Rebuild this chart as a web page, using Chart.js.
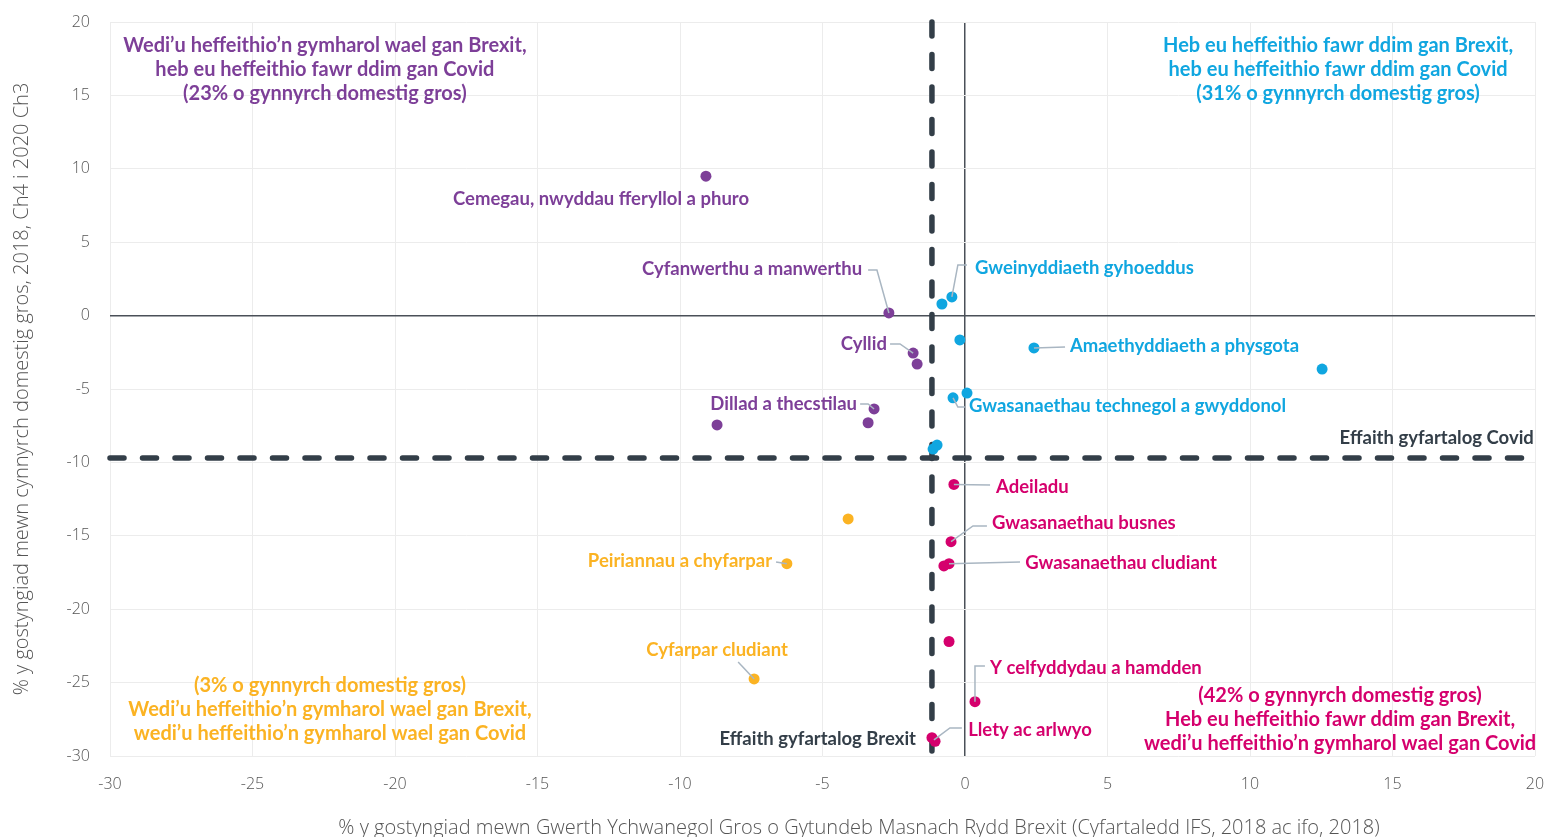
<!DOCTYPE html>
<html>
<head>
<meta charset="utf-8">
<script src="https://cdn.jsdelivr.net/npm/chart.js@4"></script>
<style>
  html, body { margin: 0; padding: 0; background: #fff; }
  #wrap { width: 1548px; height: 837px; }
</style>
</head>
<body>
<div id="wrap"><canvas id="chart" width="1548" height="837"></canvas></div>
<script>
// DATA (x = % GVA fall from Brexit FTA, y = % GDP fall 2018 Q4 -> 2020 Q3)
const purpleX = [-9.09, -2.67, -1.82, -1.68, -3.19, -3.40, -8.70];
const purpleY = [9.5, 0.18, -2.55, -3.3, -6.36, -7.3, -7.45];

const blueX = [-0.46, -0.81, -0.18, 2.42, 12.53, 0.07, -0.42, -0.98, -1.12];
const blueY = [1.27, 0.79, -1.66, -2.2, -3.64, -5.28, -5.6, -8.82, -9.09];

const pinkX = [-0.39, -0.49, -0.56, -0.74, -0.56, 0.35, -1.16, -1.05];
const pinkY = [-11.5, -15.4, -16.9, -17.05, -22.2, -26.3, -28.75, -29.0];

const yellowX = [-4.1, -6.25, -7.4];
const yellowY = [-13.85, -16.9, -24.75];

const avgBrexit = -1.16;
const avgCovid = -9.7;

const xTicks = [-30, -25, -20, -15, -10, -5, 0, 5, 10, 15, 20];
const yTicks = [20, 15, 10, 5, 0, -5, -10, -15, -20, -25, -30];

const xTitle = "% y gostyngiad mewn Gwerth Ychwanegol Gros o Gytundeb Masnach Rydd Brexit (Cyfartaledd IFS, 2018 ac ifo, 2018)";
const yTitle = "% y gostyngiad mewn cynnyrch domestig gros, 2018, Ch4 i 2020 Ch3";

const PURPLE = "#7d3f98";
const BLUE = "#10a6e0";
const PINK = "#d5006d";
const YELLOW = "#fbb323";
const DARK = "#333e48";
const LEADER = "#a9b6c2";

function pts(xs, ys) {
  return xs.map((x, i) => ({ x: x, y: ys[i] }));
}

// labels placed in data units, with leader lines
const labels = [
  { t: "Cemegau, nwyddau fferyllol a phuro", x: -12.77, y: 7.94, a: "center", c: PURPLE },
  { t: "Cyfanwerthu a manwerthu", x: -3.61, y: 3.17, a: "right", c: PURPLE, l: [[-3.40, 3.1], [-3.09, 3.1], [-2.67, 0.18]] },
  { t: "Cyllid", x: -2.74, y: -1.93, a: "right", c: PURPLE, l: [[-2.63, -1.93], [-2.28, -1.93], [-1.82, -2.55]] },
  { t: "Dillad a thecstilau", x: -3.79, y: -6.02, a: "right", c: PURPLE, l: [[-3.68, -6.02], [-3.40, -6.02], [-3.19, -6.36]] },
  { t: "Gweinyddiaeth gyhoeddus", x: 0.35, y: 3.24, a: "left", c: BLUE, l: [[0.07, 3.45], [-0.25, 3.45], [-0.46, 1.27]] },
  { t: "Amaethyddiaeth a physgota", x: 3.68, y: -2.07, a: "left", c: BLUE, l: [[2.42, -2.2], [3.51, -2.14]] },
  { t: "Gwasanaethau technegol a gwyddonol", x: 0.14, y: -6.16, a: "left", c: BLUE, l: [[-0.42, -5.6], [-0.25, -6.23], [0, -6.23]] },
  { t: "Effaith gyfartalog Covid", x: 19.96, y: -8.34, a: "right", c: DARK },
  { t: "Adeiladu", x: 1.09, y: -11.67, a: "left", c: PINK, l: [[-0.39, -11.5], [0.88, -11.54]] },
  { t: "Gwasanaethau busnes", x: 0.95, y: -14.13, a: "left", c: PINK, l: [[-0.49, -15.4], [0.28, -14.33], [0.77, -14.33]] },
  { t: "Gwasanaethau cludiant", x: 2.11, y: -16.85, a: "left", c: PINK, l: [[-0.56, -16.9], [1.93, -16.78]] },
  { t: "Y celfyddydau a hamdden", x: 0.88, y: -24.0, a: "left", c: PINK, l: [[0.35, -26.3], [0.35, -23.87], [0.70, -23.87]] },
  { t: "Llety ac arlwyo", x: 0.11, y: -28.23, a: "left", c: PINK, l: [[-1.09, -28.9], [-0.53, -28.09], [-0.11, -28.09]] },
  { t: "Effaith gyfartalog Brexit", x: -1.72, y: -28.84, a: "right", c: DARK },
  { t: "Peiriannau a chyfarpar", x: -6.77, y: -16.72, a: "right", c: YELLOW, l: [[-6.63, -16.78], [-6.25, -16.9]] },
  { t: "Cyfarpar cludiant", x: -8.70, y: -22.78, a: "center", c: YELLOW, l: [[-7.96, -23.6], [-7.4, -24.75]] },
];

const quadrants = [
  { x: -22.46, y: 18.43, c: PURPLE, lines: ["Wedi\u2019u heffeithio\u2019n gymharol wael gan Brexit,", "heb eu heffeithio fawr ddim gan Covid", "(23% o gynnyrch domestig gros)"] },
  { x: 13.09, y: 18.43, c: BLUE, lines: ["Heb eu heffeithio fawr ddim gan Brexit,", "heb eu heffeithio fawr ddim gan Covid", "(31% o gynnyrch domestig gros)"] },
  { x: -22.28, y: -25.23, c: YELLOW, lines: ["(3% o gynnyrch domestig gros)", "Wedi\u2019u heffeithio\u2019n gymharol wael gan Brexit,", "wedi\u2019u heffeithio\u2019n gymharol wael gan Covid"] },
  { x: 13.16, y: -25.91, c: PINK, lines: ["(42% o gynnyrch domestig gros)", "Heb eu heffeithio fawr ddim gan Brexit,", "wedi\u2019u heffeithio\u2019n gymharol wael gan Covid"] },
];

const LABEL_FONT = "bold 18.5px Lato";
const QUAD_FONT = "bold 20px Lato";

const annot = {
  id: "annot",
  beforeDatasetsDraw(chart) {
    const { ctx, chartArea: a, scales: { x, y } } = chart;
    ctx.save();
    ctx.strokeStyle = DARK;
    ctx.lineWidth = 5.5;
    ctx.lineCap = "round";
    ctx.setLineDash([14, 18.5]);
    const px = x.getPixelForValue(avgBrexit);
    ctx.beginPath();
    ctx.moveTo(px, a.top);
    ctx.lineTo(px, a.bottom);
    ctx.stroke();
    const py = y.getPixelForValue(avgCovid);
    ctx.beginPath();
    ctx.moveTo(a.left, py);
    ctx.lineTo(a.right, py);
    ctx.stroke();
    ctx.restore();
  },
  afterDatasetsDraw(chart) {
    const { ctx, scales: { x, y } } = chart;
    ctx.save();
    ctx.strokeStyle = LEADER;
    ctx.lineWidth = 1.5;
    labels.forEach(lb => {
      if (!lb.l) return;
      ctx.beginPath();
      lb.l.forEach((p, i) => {
        const X = x.getPixelForValue(p[0]), Y = y.getPixelForValue(p[1]);
        if (i === 0) ctx.moveTo(X, Y); else ctx.lineTo(X, Y);
      });
      ctx.stroke();
    });
    ctx.textBaseline = "middle";
    ctx.font = LABEL_FONT;
    labels.forEach(lb => {
      ctx.fillStyle = lb.c;
      ctx.textAlign = lb.a;
      ctx.fillText(lb.t, x.getPixelForValue(lb.x), y.getPixelForValue(lb.y));
    });
    ctx.font = QUAD_FONT;
    ctx.textAlign = "center";
    quadrants.forEach(q => {
      ctx.fillStyle = q.c;
      const X = x.getPixelForValue(q.x), Y = y.getPixelForValue(q.y);
      q.lines.forEach((s, i) => ctx.fillText(s, X, Y + i * 24));
    });
    // x axis title sits a little right of the plot centre in the original
    ctx.font = "300 20px 'Open Sans'";
    ctx.fillStyle = "#555";
    ctx.fillText(xTitle, 859, 828);
    ctx.restore();
  },
};

const gridColor = c => (c.tick && c.tick.value === 0 ? "#4a5058" : "#ececec");
const gridWidth = c => (c.tick && c.tick.value === 0 ? 1.5 : 1);

new Chart(document.getElementById("chart").getContext("2d"), {
  type: "scatter",
  data: {
    datasets: [
      { data: pts(purpleX, purpleY), backgroundColor: PURPLE },
      { data: pts(blueX, blueY), backgroundColor: BLUE },
      { data: pts(pinkX, pinkY), backgroundColor: PINK },
      { data: pts(yellowX, yellowY), backgroundColor: YELLOW },
    ],
  },
  options: {
    responsive: false,
    animation: false,
    layout: { padding: { top: 22, right: 13, left: 0, bottom: 0 } },
    elements: { point: { radius: 5.5, borderWidth: 0, hoverRadius: 5.5 } },
    plugins: { legend: { display: false }, tooltip: { enabled: false } },
    scales: {
      x: {
        type: "linear",
        min: -30,
        max: 20,
        afterBuildTicks: s => { s.ticks = xTicks.map(v => ({ value: v })); },
        afterFit: s => { s.height = 81; s.paddingLeft = 0; s.paddingRight = 0; },
        grid: { color: gridColor, lineWidth: gridWidth, drawTicks: false },
        border: { display: false },
        ticks: { color: "#555", font: { family: "Open Sans", size: 16, weight: 300 }, padding: 19 },
        title: { display: false },
      },
      y: {
        type: "linear",
        min: -30,
        max: 20,
        afterBuildTicks: s => { s.ticks = yTicks.map(v => ({ value: v })); },
        afterFit: s => { s.width = 110; s.paddingTop = 0; s.paddingBottom = 0; },
        grid: { color: gridColor, lineWidth: gridWidth, drawTicks: false },
        border: { display: false },
        ticks: { color: "#555", font: { family: "Open Sans", size: 16, weight: 300 }, padding: 20 },
        title: {
          display: true,
          text: yTitle,
          color: "#555",
          font: { family: "Open Sans", size: 20, weight: 300 },
          padding: { top: 10, bottom: 0 },
        },
      },
    },
  },
  plugins: [annot],
});
</script>
</body>
</html>
